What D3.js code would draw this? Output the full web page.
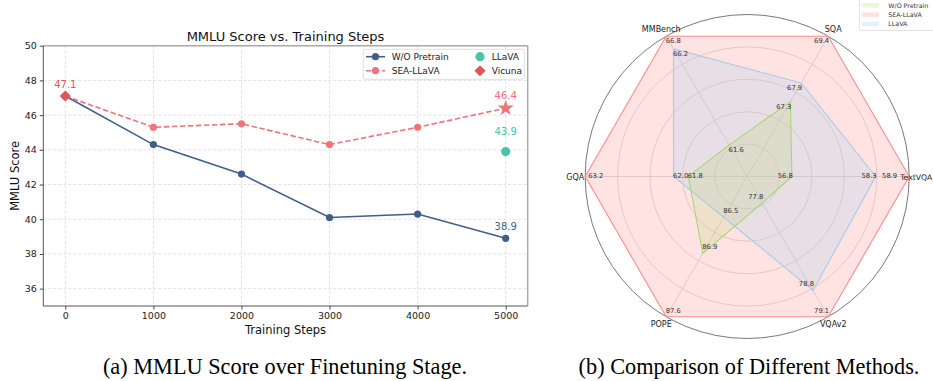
<!DOCTYPE html>
<html>
<head>
<meta charset="utf-8">
<script src="https://cdn.jsdelivr.net/npm/d3@7"></script>
<style>
	body { margin: 0; background: #fff; }
	svg { display: block; font-family: 'DejaVu Sans', sans-serif; }
</style>
</head>
<body>
<div id="chart"></div>
<script>
// left panel data
const steps = [0, 1000, 2000, 3000, 4000, 5000];
const woPretrain = [47.1, 44.3, 42.6, 40.1, 40.3, 38.9];
const seaLlava = [47.1, 45.3, 45.5, 44.3, 45.3, 46.4];
const llavaStep = 5000, llavaScore = 43.9;
const vicunaStep = 0, vicunaScore = 47.1;
const xTicks = [0, 1000, 2000, 3000, 4000, 5000];
const yTicks = [36, 38, 40, 42, 44, 46, 48, 50];

// right panel data (counter-clockwise from the right)
const benchmarks = ['TextVQA', 'SQA', 'MMBench', 'GQA', 'POPE', 'VQAv2'];
const radarWo = [56.8, 67.3, 61.6, 61.8, 86.9, 77.8];
const radarSea = [58.9, 69.4, 66.8, 63.2, 87.6, 79.1];
const radarLlava = [58.3, 67.9, 66.2, 62.0, 86.5, 78.8];
const axisFloor = [56.0, 64.9, 60.1, 61.0, 86.05, 77.5];

const width = 933, height = 381;
const svg = d3.select('#chart').append('svg')
	.attr('width', width)
	.attr('height', height);

// ---------- line chart ----------
const m = {left: 43.3, right: 527.7, top: 45.7, bottom: 306};
const x = d3.scaleLinear().domain([-250, 5250]).range([m.left, m.right]);
const y = d3.scaleLinear().domain([35, 50]).range([m.bottom, m.top]);

const colWo = '#3f5f8a', colSea = '#f0737a', colLlava = '#4cc3a9', colVicuna = '#e05658';
const diamond = d3.symbol(d3.symbolSquare, 62)();

const left = svg.append('g');

// grid
left.append('g')
	.selectAll('line')
	.data(xTicks)
	.enter()
	.append('line')
	.attr('x1', d => x(d)).attr('x2', d => x(d))
	.attr('y1', m.top).attr('y2', m.bottom)
	.attr('stroke', '#d9d9d9').attr('stroke-width', 0.8)
	.attr('stroke-dasharray', '3,2');
left.append('g')
	.selectAll('line')
	.data(yTicks)
	.enter()
	.append('line')
	.attr('x1', m.left).attr('x2', m.right)
	.attr('y1', d => y(d)).attr('y2', d => y(d))
	.attr('stroke', '#d9d9d9').attr('stroke-width', 0.8)
	.attr('stroke-dasharray', '3,2');

// axes
const xAxis = left.append('g')
	.attr('transform', `translate(0,${m.bottom})`)
	.call(d3.axisBottom(x).tickValues(xTicks).tickSize(3.5).tickPadding(3).tickFormat(d3.format('d')));
const yAxis = left.append('g')
	.attr('transform', `translate(${m.left},0)`)
	.call(d3.axisLeft(y).tickValues(yTicks).tickSize(3.5).tickPadding(3).tickFormat(d3.format('d')));
[xAxis, yAxis].forEach(a => {
	a.select('.domain').remove();
	a.selectAll('line').attr('stroke', '#444');
	a.selectAll('text').attr('font-size', 9.5).attr('fill', '#222').attr('font-family', 'DejaVu Sans');
});

// spines
left.append('line').attr('x1', m.left).attr('x2', m.right).attr('y1', m.top).attr('y2', m.top)
	.attr('stroke', '#aaa').attr('stroke-width', 1.5);
left.append('line').attr('x1', m.right).attr('x2', m.right).attr('y1', m.top).attr('y2', m.bottom)
	.attr('stroke', '#aaa').attr('stroke-width', 1.5);
left.append('line').attr('x1', m.left).attr('x2', m.left).attr('y1', m.top).attr('y2', m.bottom)
	.attr('stroke', '#555').attr('stroke-width', 1);
left.append('line').attr('x1', m.left).attr('x2', m.right).attr('y1', m.bottom).attr('y2', m.bottom)
	.attr('stroke', '#555').attr('stroke-width', 1);

// title and labels
left.append('text')
	.attr('x', (m.left + m.right) / 2).attr('y', 41)
	.attr('text-anchor', 'middle').attr('font-size', 13).attr('fill', '#111')
	.text('MMLU Score vs. Training Steps');
left.append('text')
	.attr('x', (m.left + m.right) / 2).attr('y', 334)
	.attr('text-anchor', 'middle').attr('font-size', 11.5).attr('fill', '#111')
	.text('Training Steps');
left.append('text')
	.attr('transform', `translate(19,${(m.top + m.bottom) / 2}) rotate(-90)`)
	.attr('text-anchor', 'middle').attr('font-size', 11.5).attr('fill', '#111')
	.text('MMLU Score');

const line = d3.line().x(d => x(d[0])).y(d => y(d[1]));

left.append('path')
	.datum(d3.zip(steps, woPretrain))
	.attr('d', line)
	.attr('fill', 'none').attr('stroke', colWo).attr('stroke-width', 1.6);
left.append('path')
	.datum(d3.zip(steps, seaLlava))
	.attr('d', line)
	.attr('fill', 'none').attr('stroke', colSea).attr('stroke-width', 1.6)
	.attr('stroke-dasharray', '5.5,2.5');

left.append('g')
	.selectAll('circle')
	.data(d3.zip(steps, woPretrain))
	.enter()
	.append('circle')
	.attr('cx', d => x(d[0])).attr('cy', d => y(d[1])).attr('r', 3.6)
	.attr('fill', colWo);
left.append('g')
	.selectAll('circle')
	.data(d3.zip(steps, seaLlava).slice(0, -1))
	.enter()
	.append('circle')
	.attr('cx', d => x(d[0])).attr('cy', d => y(d[1])).attr('r', 3.6)
	.attr('fill', colSea);

// star for last SEA point
const lastSea = [steps[steps.length - 1], seaLlava[seaLlava.length - 1]];
left.append('path')
	.attr('d', d3.symbol(d3.symbolStar, 80)())
	.attr('transform', `translate(${x(lastSea[0])},${y(lastSea[1])})`)
	.attr('fill', colSea);

// LLaVA point and Vicuna diamond
left.append('circle')
	.attr('cx', x(llavaStep)).attr('cy', y(llavaScore)).attr('r', 4.6)
	.attr('fill', colLlava);
left.append('path')
	.attr('d', diamond)
	.attr('transform', `translate(${x(vicunaStep)},${y(vicunaScore)}) rotate(45)`)
	.attr('fill', colVicuna);

// value annotations
const notes = [
	[vicunaStep, vicunaScore, 12, colVicuna],
	[lastSea[0], lastSea[1], 13, colSea],
	[llavaStep, llavaScore, 20, colLlava],
	[steps[steps.length - 1], woPretrain[woPretrain.length - 1], 12, colWo]
];
left.append('g')
	.selectAll('text')
	.data(notes)
	.enter()
	.append('text')
	.attr('x', d => x(d[0])).attr('y', d => y(d[1]) - d[2] + 3.5)
	.attr('text-anchor', 'middle').attr('font-size', 10)
	.attr('fill', d => d[3])
	.text(d => d[1].toFixed(1));

// legend
const lg = left.append('g');
lg.append('rect')
	.attr('x', 363.3).attr('y', 49.3).attr('width', 161).attr('height', 30)
	.attr('rx', 2).attr('fill', '#fff').attr('fill-opacity', 0.85)
	.attr('stroke', '#d6d6d6').attr('stroke-width', 0.8);
const lgRows = [56.7, 70.7];
lg.append('line').attr('x1', 366).attr('x2', 385).attr('y1', lgRows[0]).attr('y2', lgRows[0])
	.attr('stroke', colWo).attr('stroke-width', 1.6);
lg.append('circle').attr('cx', 375.5).attr('cy', lgRows[0]).attr('r', 3.6).attr('fill', colWo);
lg.append('line').attr('x1', 366).attr('x2', 385).attr('y1', lgRows[1]).attr('y2', lgRows[1])
	.attr('stroke', colSea).attr('stroke-width', 1.6).attr('stroke-dasharray', '5.5,2.5');
lg.append('circle').attr('cx', 375.5).attr('cy', lgRows[1]).attr('r', 3.6).attr('fill', colSea);
lg.append('circle').attr('cx', 480).attr('cy', lgRows[0]).attr('r', 4.6).attr('fill', colLlava);
lg.append('path').attr('d', diamond)
	.attr('transform', `translate(480,${lgRows[1]}) rotate(45)`).attr('fill', colVicuna);
const lgText = [[391.7, lgRows[0], 'W/O Pretrain'], [391.7, lgRows[1], 'SEA-LLaVA'],
	[491.7, lgRows[0], 'LLaVA'], [491.7, lgRows[1], 'Vicuna']];
lg.selectAll('text')
	.data(lgText)
	.enter()
	.append('text')
	.attr('x', d => d[0]).attr('y', d => d[1] + 3.2)
	.attr('font-size', 9).attr('fill', '#222')
	.text(d => d[2]);

// ---------- radar chart ----------
const cx = 747.2, cy = 176.5, R = 162;
const radar = svg.append('g').attr('transform', `translate(${cx},${cy})`);
const angle = d3.scaleLinear().domain([0, benchmarks.length]).range([0, 2 * Math.PI]);
const radial = benchmarks.map((b, i) => d3.scaleLinear()
	.domain([axisFloor[i], d3.max([radarWo[i], radarSea[i], radarLlava[i]])])
	.range([0, R]));
const pt = (v, i) => {
	const r = radial[i](v), a = angle(i);
	return [r * Math.cos(a), -r * Math.sin(a)];
};

// grid
radar.append('g')
	.selectAll('circle')
	.data([0.2, 0.4, 0.6, 0.8])
	.enter()
	.append('circle')
	.attr('r', d => d * R)
	.attr('fill', 'none').attr('stroke', '#cfcfcf').attr('stroke-width', 0.8);
radar.append('g')
	.selectAll('line')
	.data(benchmarks)
	.enter()
	.append('line')
	.attr('x1', 0).attr('y1', 0)
	.attr('x2', (d, i) => R * Math.cos(angle(i)))
	.attr('y2', (d, i) => -R * Math.sin(angle(i)))
	.attr('stroke', '#cfcfcf').attr('stroke-width', 0.8);
radar.append('circle')
	.attr('r', R).attr('fill', 'none').attr('stroke', '#555').attr('stroke-width', 0.8);

const series = [
	{name: 'SEA-LLaVA', values: radarSea, fill: '#ff9a9a', stroke: '#ff8c8c'},
	{name: 'LLaVA', values: radarLlava, fill: '#a9d2ec', stroke: '#a6cde6'},
	{name: 'W/O Pretrain', values: radarWo, fill: '#c6d688', stroke: '#a8d770'}
];
const poly = d3.line().curve(d3.curveLinearClosed);
series.forEach(s => {
	radar.append('path')
		.attr('d', poly(s.values.map(pt)))
		.attr('fill', s.fill).attr('fill-opacity', 0.28)
		.attr('stroke', 'none');
});
series.forEach(s => {
	radar.append('path')
		.attr('d', poly(s.values.map(pt)))
		.attr('fill', 'none').attr('stroke', s.stroke).attr('stroke-width', 1.1);
});

// value labels
series.forEach(s => {
	radar.append('g')
		.selectAll('text')
		.data(s.values)
		.enter()
		.append('text')
		.each(function(v, i) {
			const p = pt(v, i), a = angle(i);
			const c = Math.cos(a), sn = Math.sin(a);
			let dy = 1;
			if (sn > 0.01) dy = 7;
			else if (sn < -0.01) dy = -4;
			const atEdge = Math.abs(sn) < 0.01 && Math.abs(p[0]) > R - 1;
			d3.select(this)
				.attr('x', p[0] + (c > 0.01 ? (atEdge ? -12 : 1) : c < -0.01 ? (atEdge ? 3 : -0.5) : 0))
				.attr('y', p[1] + dy)
				.attr('text-anchor', c > 0.01 ? 'end' : c < -0.01 ? 'start' : 'middle');
		})
		.attr('font-size', 6.8).attr('fill', '#333')
		.text(v => v.toFixed(1));
});

// axis labels (the right one starts just past the rim)
radar.append('g')
	.selectAll('text')
	.data(benchmarks)
	.enter()
	.append('text')
	.attr('x', (d, i) => i === 0 ? R - 9 : 172 * Math.cos(angle(i)))
	.attr('y', (d, i) => -170 * Math.sin(angle(i)) + 3)
	.attr('text-anchor', (d, i) => i === 0 ? 'start' : 'middle')
	.attr('font-size', (d, i) => i === 0 ? 7.7 : 8).attr('fill', '#222')
	.text(d => d);

// radar legend
const rl = svg.append('g');
rl.append('rect')
	.attr('x', 859.5).attr('y', -1).attr('width', 80).attr('height', 31.5)
	.attr('rx', 1.5).attr('fill', '#fff').attr('stroke', '#d6d6d6').attr('stroke-width', 0.7);
const rlItems = [series[2], series[0], series[1]];
rl.selectAll('g')
	.data(rlItems)
	.enter()
	.append('g')
	.attr('transform', (d, i) => `translate(0,${5.3 + i * 9.3})`)
	.call(g => {
		g.append('rect')
			.attr('x', 862).attr('y', -2.2).attr('width', 17).attr('height', 4.5)
			.attr('fill', d => d.fill).attr('fill-opacity', 0.3);
		g.append('text')
			.attr('x', 888.3).attr('y', 2.3)
			.attr('font-size', 6.3).attr('fill', '#333')
			.text(d => d.name);
	});

// captions
svg.append('text')
	.attr('x', 285).attr('y', 374)
	.attr('text-anchor', 'middle').attr('font-family', 'Liberation Serif')
	.attr('font-size', 22.3).attr('fill', '#000')
	.text('(a) MMLU Score over Finetuning Stage.');
svg.append('text')
	.attr('x', 749).attr('y', 374)
	.attr('text-anchor', 'middle').attr('font-family', 'Liberation Serif')
	.attr('font-size', 22.3).attr('fill', '#000')
	.text('(b) Comparison of Different Methods.');
</script>
</body>
</html>
